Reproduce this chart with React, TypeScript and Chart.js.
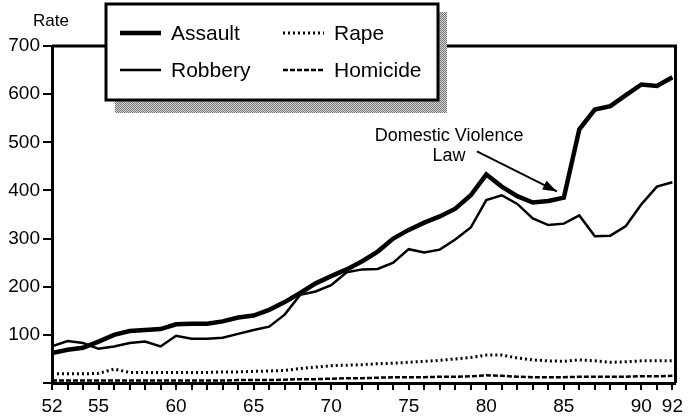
import React, { useEffect, useRef } from "react";
import { Chart, registerables } from "chart.js";
Chart.register(...registerables);

const years = [52, 53, 54, 55, 56, 57, 58, 59, 60, 61, 62, 63, 64, 65, 66, 67, 68, 69, 70, 71, 72, 73, 74, 75, 76, 77, 78, 79, 80, 81, 82, 83, 84, 85, 86, 87, 88, 89, 90, 91, 92];
const assault = [62, 69, 73, 86, 100, 108, 110, 112, 122, 123, 123, 128, 136, 140, 152, 168, 187, 207, 222, 236, 253, 273, 300, 318, 333, 346, 362, 390, 433, 408, 388, 375, 378, 385, 527, 568, 575, 598, 620, 617, 635];
const robbery = [76, 87, 83, 71, 76, 83, 86, 76, 98, 92, 92, 94, 102, 110, 117, 142, 183, 190, 203, 230, 236, 237, 250, 278, 271, 277, 298, 323, 380, 390, 372, 342, 328, 331, 348, 305, 306, 326, 371, 408, 417];
const rape = [19, 19, 19, 20, 29, 22, 22, 22, 22, 22, 22, 23, 23, 24, 25, 26, 30, 33, 36, 37, 38, 40, 41, 43, 45, 47, 50, 53, 58, 58, 52, 48, 46, 45, 48, 46, 43, 44, 46, 46, 46];
const homicide = [5, 5, 5, 5, 5, 5, 5, 5, 5, 5, 5, 5, 6, 6, 6, 7, 8, 8, 9, 10, 10, 11, 12, 12, 12, 13, 13, 14, 16, 15, 13, 12, 12, 12, 13, 13, 13, 13, 14, 14, 15];
const labeledYears = [52, 55, 60, 65, 70, 75, 80, 85, 90, 92];
const seriesNames = ["Assault", "Robbery", "Rape", "Homicide"];
const axisTitle = "Rate";
const noteLines = ["Domestic Violence", "Law"];

const FONT = '"Liberation Sans", Arial, sans-serif';

const styles = [
  { width: 4.5, dash: [] as number[] },
  { width: 2.5, dash: [] as number[] },
  { width: 3, dash: [2, 3] },
  { width: 2.5, dash: [5, 2] },
];

function makePattern(ctx: CanvasRenderingContext2D) {
  const c = document.createElement("canvas");
  c.width = 2;
  c.height = 2;
  const p = c.getContext("2d")!;
  p.fillStyle = "#dcdcdc";
  p.fillRect(0, 0, 2, 2);
  p.fillStyle = "#707070";
  p.fillRect(0, 0, 1, 1);
  p.fillRect(1, 1, 1, 1);
  return ctx.createPattern(c, "repeat");
}

const overlay = {
  id: "overlay",
  afterDraw(chart: any) {
    const { ctx, chartArea, scales } = chart;
    const { left, right, top, bottom } = chartArea;
    const x = scales.x;
    const y = scales.y;
    ctx.save();
    // frame top + right
    ctx.strokeStyle = "#000";
    ctx.lineWidth = 3;
    ctx.setLineDash([]);
    ctx.beginPath();
    ctx.moveTo(left, top);
    ctx.lineTo(right, top);
    ctx.lineTo(right, bottom);
    ctx.stroke();

    // axis title
    ctx.fillStyle = "#000";
    ctx.font = `17px ${FONT}`;
    ctx.textAlign = "center";
    ctx.textBaseline = "middle";
    ctx.fillText(axisTitle, left - 1, top - 25);

    // legend box
    const bx = left + 54, by = 4, bw = 332, bh = 96;
    ctx.fillStyle = makePattern(ctx) || "#aaa";
    ctx.fillRect(bx + 9, by + 8, bw, bh + 5);
    ctx.fillStyle = "#fff";
    ctx.fillRect(bx, by, bw, bh);
    ctx.lineWidth = 3;
    ctx.strokeStyle = "#000";
    ctx.strokeRect(bx, by, bw, bh);

    const cols = [bx + 14, bx + 177];
    const rows = [by + 29, by + 66];
    const order = [
      [0, 0, 0],
      [1, 0, 1],
      [2, 1, 0],
      [3, 1, 1],
    ];
    ctx.font = `21px ${FONT}`;
    ctx.textAlign = "left";
    for (const [i, c, r] of order) {
      const sx = cols[c];
      const sy = rows[r];
      ctx.lineWidth = styles[i].width;
      ctx.setLineDash(styles[i].dash);
      ctx.beginPath();
      ctx.moveTo(sx, sy);
      ctx.lineTo(sx + 41, sy);
      ctx.stroke();
      ctx.setLineDash([]);
      ctx.fillStyle = "#000";
      ctx.fillText(seriesNames[i], sx + 51, sy + 1);
    }

    // annotation
    ctx.font = `18px ${FONT}`;
    ctx.textAlign = "center";
    ctx.fillText(noteLines[0], x.getPixelForValue(77.6), y.getPixelForValue(512));
    ctx.fillText(noteLines[1], x.getPixelForValue(77.6), y.getPixelForValue(472));
    const x0 = x.getPixelForValue(79.4), y0 = y.getPixelForValue(481);
    const x1 = x.getPixelForValue(84.55), y1 = y.getPixelForValue(398);
    ctx.lineWidth = 2;
    ctx.beginPath();
    ctx.moveTo(x0, y0);
    ctx.lineTo(x1, y1);
    ctx.stroke();
    const ang = Math.atan2(y1 - y0, x1 - x0);
    const L = 14, W = 5;
    ctx.beginPath();
    ctx.moveTo(x1, y1);
    ctx.lineTo(x1 - L * Math.cos(ang) + W * Math.sin(ang), y1 - L * Math.sin(ang) - W * Math.cos(ang));
    ctx.lineTo(x1 - L * Math.cos(ang) - W * Math.sin(ang), y1 - L * Math.sin(ang) + W * Math.cos(ang));
    ctx.closePath();
    ctx.fill();
    ctx.restore();
  },
};

export default function App() {
  const ref = useRef<HTMLCanvasElement | null>(null);
  useEffect(() => {
    document.body.style.margin = "0";
    const series = [assault, robbery, rape, homicide];
    const chart = new Chart(ref.current!, {
      type: "line",
      data: {
        datasets: series.map((s, i) => ({
          label: seriesNames[i],
          data: years.map((yr, j) => ({ x: yr, y: s[j] })),
          borderColor: "#000",
          backgroundColor: "#000",
          borderWidth: styles[i].width,
          borderDash: styles[i].dash,
          pointRadius: 0,
          tension: 0,
          fill: false,
        })),
      },
      options: {
        responsive: false,
        animation: false,
        layout: { padding: { top: 46, right: 9, left: 0, bottom: 0 } },
        plugins: { legend: { display: false }, tooltip: { enabled: false } },
        scales: {
          x: {
            type: "linear",
            min: 52,
            max: 92.2,
            afterFit: (s: any) => {
              s.height = 36;
            },
            afterBuildTicks: (s: any) => {
              s.ticks = years.map((v) => ({ value: v }));
            },
            ticks: {
              autoSkip: false,
              maxRotation: 0,
              color: "#000",
              padding: 5,
              font: { family: FONT, size: 19 },
              callback: (v: any) => (labeledYears.includes(Number(v)) ? String(v) : ""),
            },
            grid: { drawOnChartArea: false, drawTicks: true, tickLength: 7, color: "#000", lineWidth: 2 },
            border: { display: true, color: "#000", width: 3 },
          },
          y: {
            type: "linear",
            min: 0,
            max: 700,
            afterFit: (s: any) => {
              s.width = 52;
            },
            ticks: {
              stepSize: 100,
              color: "#000",
              padding: 3,
              font: { family: FONT, size: 19 },
              callback: (v: any) => (Number(v) === 0 ? "" : String(v)),
            },
            grid: { drawOnChartArea: false, drawTicks: true, tickLength: 9, color: "#000", lineWidth: 2 },
            border: { display: true, color: "#000", width: 3 },
          },
        },
      },
      plugins: [overlay],
    });
    return () => chart.destroy();
  }, []);
  return (
    <div style={{ position: "absolute", left: 0, top: 0, width: 688, height: 419, background: "#fff" }}>
      <canvas ref={ref} width={688} height={419} />
    </div>
  );
}
